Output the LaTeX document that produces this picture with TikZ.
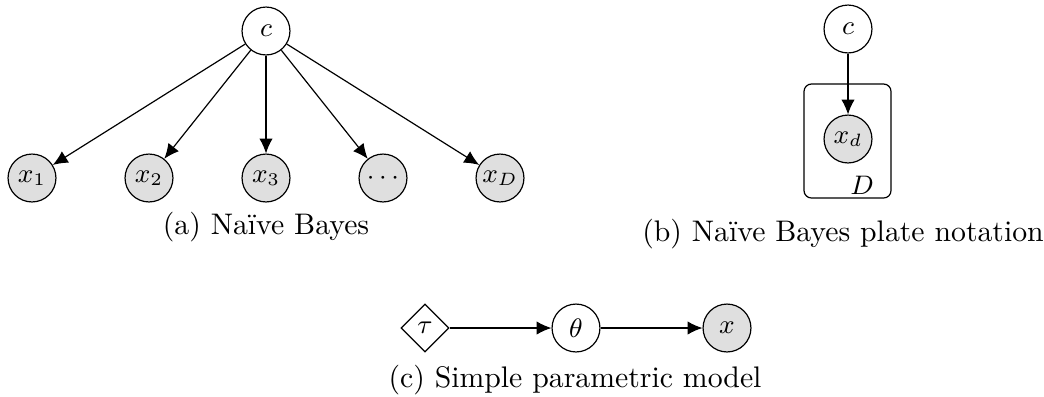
\documentclass[tikz,border=0pt]{standalone}
\usetikzlibrary{arrows.meta,shapes.geometric}
\begin{document}
\begin{tikzpicture}[x=0.336pt,y=-0.336pt,
  latent/.style={circle,draw,inner sep=0pt,minimum size=16.1pt,font=\small},
  obs/.style={latent,fill=gray!25},
  param/.style={diamond,draw,inner sep=0pt,minimum size=16.1pt,font=\small},
  edge/.style={-{Latex[length=5pt,width=4.5pt]}},
  captext/.style={inner sep=0pt,anchor=base}]
\useasboundingbox (0,0) rectangle (1044,396);
% (a)
\node[latent] (c) at (266,31) {$c$};
\node[obs] (x1) at (32,178) {$x_1$};
\node[obs] (x2) at (149,178) {$x_2$};
\node[obs] (x3) at (266,178) {$x_3$};
\node[obs] (xd) at (383,178) {$\cdots$};
\node[obs] (xD) at (500,178) {$x_D$};
\foreach \t in {x1,x2,x3,xd,xD} \draw[edge] (c) -- (\t);
\node[captext] (capa) at (266,234) {(a) Na\"ive Bayes};
% (b)
\node[latent] (cb) at (848,29) {$c$};
\node[obs] (xdb) at (848,139) {$x_d$};
\draw[rounded corners=2.5pt] (804,84) rectangle (891,198);
\node[latent,draw=none,fill=none,minimum size=0pt] (D) at (862,185) {$D$};
\draw[edge] (cb) -- (xdb);
\node[captext] (capb) at (843,241) {(b) Na\"ive Bayes plate notation};
% (c)
\node[param] (tau) at (425,328) {$\tau$};
\node[latent] (theta) at (576,328) {$\theta$};
\node[obs] (x) at (727,328) {$x$};
\draw[edge] (tau) -- (theta);
\draw[edge] (theta) -- (x);
\node[captext] (capc) at (575,387) {(c) Simple parametric model};
\end{tikzpicture}
\end{document}
